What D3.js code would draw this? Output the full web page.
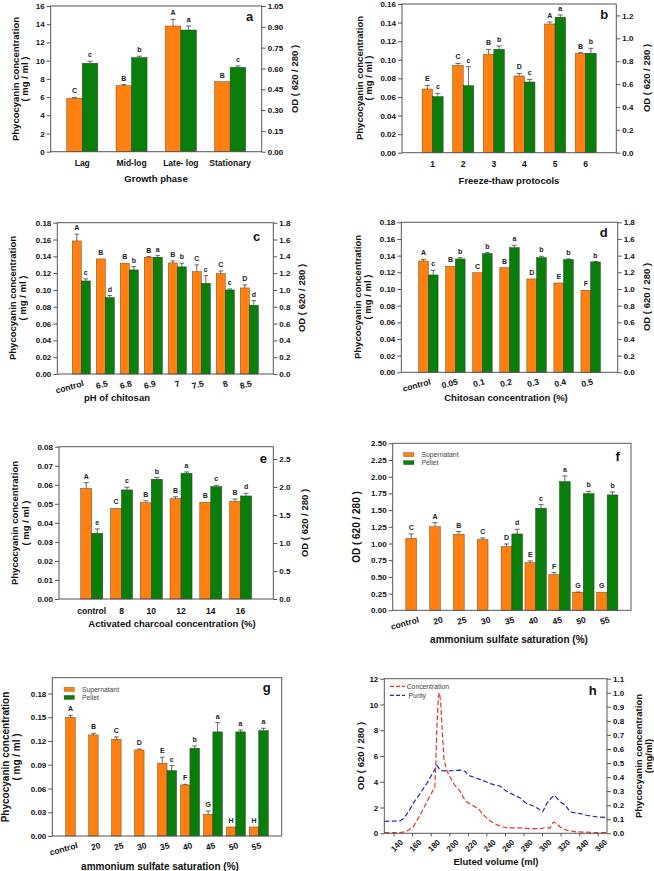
<!DOCTYPE html>
<html><head><meta charset="utf-8">
<script src="https://cdn.jsdelivr.net/npm/d3@7"></script>
<style>
body{margin:0;background:#fff}
svg{display:block}
text{font-family:"Liberation Sans",Arial,sans-serif}
</style></head><body>
<svg id="c" width="654" height="871"></svg>
<script>
// ---------- DATA ----------
// (a) growth phase
const aCats = ["Lag","Mid-log","Late- log","Stationary"];
const aSup = [5.86, 7.25, 13.8, 7.69];
const aSupErr = [0.1, 0.12, 0.73, 0.0];
const aPel = [0.637, 0.678, 0.877, 0.608];
const aPelErr = [0.015, 0.01, 0.029, 0.01];
const aSupLet = ["C","B","A","B"];
const aPelLet = ["c","b","a","c"];
const aTicksL = [0,2,4,6,8,10,12,14,16];
const aTicksR = [0,0.15,0.30,0.45,0.60,0.75,0.90,1.05];
// (b) freeze-thaw
const bCats = ["1","2","3","4","5","6"];
const bSup = [0.0685, 0.094, 0.1058, 0.0825, 0.1385, 0.1069];
const bSupErr = [0.004, 0.002, 0.0054, 0.0029, 0.0022, 0.0007];
const bPel = [0.49, 0.586, 0.904, 0.618, 1.184, 0.869];
const bPelErr = [0.029, 0.166, 0.029, 0.023, 0.02, 0.044];
const bSupLet = ["E","C","B","D","A","B"];
const bPelLet = ["c","c","b","c","a","b"];
const bTicksL = [0,0.02,0.04,0.06,0.08,0.10,0.12,0.14,0.16];
const bTicksR = [0,0.2,0.4,0.6,0.8,1.0,1.2];
// (c) pH of chitosan
const cCats = ["control","6.5","6.8","6.9","7","7.5","8","8.5"];
const cSup = [0.1583, 0.1369, 0.1317, 0.1389, 0.1321, 0.1218, 0.1194, 0.1024];
const cSupErr = [0.008, 0.0, 0.0, 0.0008, 0.0024, 0.008, 0.0032, 0.0036];
const cPel = [1.107, 0.909, 1.238, 1.389, 1.274, 1.079, 1.0, 0.817];
const cPelErr = [0.024, 0.024, 0.04, 0.02, 0.044, 0.09, 0.012, 0.056];
const cSupLet = ["A","B","B","B","B","C","C","D"];
const cPelLet = ["c","d","b","a","b","c","c","d"];
const cdTicksL = [0,0.02,0.04,0.06,0.08,0.10,0.12,0.14,0.16,0.18];
const cdTicksR = [0,0.2,0.4,0.6,0.8,1.0,1.2,1.4,1.6,1.8];
// (d) chitosan concentration
const dCats = ["control","0.05","0.1","0.2","0.3","0.4","0.5"];
const dSup = [0.1336, 0.1272, 0.1196, 0.1256, 0.112, 0.1072, 0.0984];
const dSupErr = [0.002, 0.0, 0.0, 0.0, 0.0, 0.0, 0.0];
const dPel = [1.168, 1.36, 1.424, 1.496, 1.376, 1.352, 1.324];
const dPelErr = [0.056, 0.016, 0.012, 0.028, 0.016, 0.008, 0.004];
const dSupLet = ["A","B","C","B","D","E","F"];
const dPelLet = ["c","b","b","a","b","b","b"];
// (e) activated charcoal
const eCats = ["control","8","10","12","14","16"];
const eSup = [0.0581, 0.0476, 0.0506, 0.0527, 0.0508, 0.0513];
const eSupErr = [0.003, 0.0, 0.001, 0.001, 0.0, 0.0012];
const ePel = [1.173, 1.948, 2.138, 2.245, 2.007, 1.84];
const ePelErr = [0.078, 0.048, 0.03, 0.024, 0.024, 0.048];
const eSupLet = ["A","C","B","B","B","B"];
const ePelLet = ["e","c","b","a","c","d"];
const eTicksL = [0,0.01,0.02,0.03,0.04,0.05,0.06,0.07,0.08];
const eTicksR = [0,0.5,1.0,1.5,2.0,2.5];
// (f) ammonium sulfate, OD
const fgCats = ["control","20","25","30","35","40","45","50","55"];
const fSup = [1.078, 1.252, 1.138, 1.058, 0.953, 0.714, 0.534, 0.269, 0.269];
const fSupErr = [0.065, 0.06, 0.04, 0.025, 0.04, 0.025, 0.03, 0.005, 0.0];
const fPel = [null, null, null, null, 1.143, 1.527, 1.926, 1.746, 1.727];
const fPelErr = [null, null, null, null, 0.07, 0.055, 0.085, 0.035, 0.045];
const fSupLet = ["C","A","B","C","D","E","F","G","G"];
const fPelLet = [null, null, null, null, "d","c","a","b","b"];
const fTicks = [0,0.25,0.5,0.75,1.0,1.25,1.5,1.75,2.0,2.25,2.5];
// (g) ammonium sulfate, concentration
const gSup = [0.150, 0.1277, 0.1222, 0.1087, 0.0919, 0.0645, 0.0274, 0.0114, 0.0114];
const gSupErr = [0.0025, 0.002, 0.003, 0.0013, 0.0076, 0.0008, 0.0042, 0.0, 0.0];
const gPel = [null, null, null, null, 0.0826, 0.1108, 0.1315, 0.1315, 0.1331];
const gPelErr = [null, null, null, null, 0.0063, 0.003, 0.0118, 0.0025, 0.003];
const gSupLet = ["A","B","C","D","E","F","G","H","H"];
const gPelLet = [null, null, null, null, "c","b","a","a","a"];
const gTicks = [0,0.03,0.06,0.09,0.12,0.15,0.18];
const legendLabels = ["Supernatant","Pellet"];
// (h) elution profile
const hPurVol = [130,140,147,150.5,156,161,168.5,175.7,182.9,186.5,188,190,193.6,197,204.4,211.6,217,220.5,226,233,240.3,247.5,254.7,260,269,276.3,283.4,290.7,296,300.6,305,310,313,317.5,322,325,330,341,348,359,370];
const hPurity = [0.93,0.95,0.96,1.14,1.66,2.3,3.08,3.86,4.76,5.28,5.15,4.9,4.84,4.84,4.86,4.9,4.81,4.5,4.37,4.19,3.98,3.78,3.67,3.34,3.0,2.74,2.3,2.12,1.91,1.66,2.3,2.74,2.95,2.61,2.3,2.23,1.66,1.53,1.4,1.27,1.22];
const hConVol = [130,147,154,161,168.5,175.7,182.9,184.5,185.5,186.5,188.2,189.3,190.7,192.5,194.3,197.2,200.8,206.2,211.6,217,220.5,226,231.3,236.7,243.9,251,258.3,265.4,276.3,287.1,297.9,303.3,308.7,312.3,315.9,319.5,326.7,337.4,359,370];
const hConc = [0.005,0.005,0.014,0.045,0.128,0.223,0.31,0.33,0.5,0.72,0.97,1.0,0.94,0.72,0.53,0.448,0.4,0.34,0.3,0.235,0.216,0.195,0.175,0.133,0.088,0.062,0.045,0.038,0.038,0.033,0.033,0.04,0.038,0.08,0.069,0.045,0.021,0.01,0.005,0.005];
const hXTicks = [140,160,180,200,220,240,260,280,300,320,340,360];
const hTicksL = [0,2,4,6,8,10,12];
const hTicksR = [0,0.1,0.2,0.3,0.4,0.5,0.6,0.7,0.8,0.9,1.0,1.1];
const hLegend = ["Concentration"," Purity"];

// ---------- STYLE ----------
const ORANGE = "#FF8010", GREEN = "#0A7E0A", AXC = "#555";
const svg = d3.select("#c");

function styleAxis(sel, fs){
  sel.select(".domain").remove();
  sel.selectAll(".tick line").attr("stroke", AXC);
  sel.selectAll(".tick text").attr("font-size", fs).attr("font-weight","bold").attr("fill","#111");
}
function vtext(x, y, txt, fs){
  svg.append("text").attr("transform",`translate(${x},${y}) rotate(-90)`)
    .attr("text-anchor","middle").attr("font-size",fs).attr("font-weight","bold").attr("fill","#111").text(txt);
}
function htext(x, y, txt, fs, anchor){
  svg.append("text").attr("x",x).attr("y",y).attr("text-anchor",anchor||"middle")
    .attr("font-size",fs).attr("font-weight","bold").attr("fill","#111").text(txt);
}
function legend(x, y, fs){
  [ORANGE, GREEN].forEach((c,i)=>{
    svg.append("rect").attr("x",x).attr("y",y+i*8).attr("width",10.5).attr("height",4.2)
      .attr("fill",c).attr("stroke","#444").attr("stroke-width",0.3);
    svg.append("text").attr("x",x+18).attr("y",y+i*8+4.3).attr("font-size",fs)
      .attr("fill","#444").text(legendLabels[i]);
  });
}

function barPanel(o){
  const x = d3.scalePoint().domain(o.cats).range([o.L,o.R]).padding(o.pad);
  const y = d3.scaleLinear().domain(o.yDom).range([o.B,o.T]);
  const y2 = o.y2Dom ? d3.scaleLinear().domain(o.y2Dom).range([o.B,o.T]) : y;
  const g = svg.append("g");
  const axL = g.append("g").attr("transform",`translate(${o.L},0)`)
    .call(d3.axisLeft(y).tickValues(o.ticksL).tickFormat(d3.format(o.fmtL)).tickSize(4).tickPadding(2));
  styleAxis(axL, 8);
  if (o.y2Dom){
    const axR = g.append("g").attr("transform",`translate(${o.R},0)`)
      .call(d3.axisRight(y2).tickValues(o.ticksR).tickFormat(d3.format(o.fmtR)).tickSize(4).tickPadding(2));
    styleAxis(axR, 8);
  }
  const rows = o.cats.map((c,i)=>({c, s:o.sup[i], se:o.supErr[i], sl:o.supLet[i], p:o.pel[i], pe:o.pelErr[i], pl:o.pelLet[i]}));
  const bw = o.bw, cap = Math.min(2.6, bw*0.25);
  g.selectAll("rect.s").data(rows).join("rect").attr("class","s")
    .attr("x",d=>x(d.c)-bw).attr("y",d=>y(d.s)).attr("width",bw).attr("height",d=>o.B-y(d.s))
    .attr("fill",ORANGE).attr("stroke","#6b4a1a").attr("stroke-width",0.5);
  const pr = rows.filter(d=>d.p!=null);
  g.selectAll("rect.p").data(pr).join("rect").attr("class","p")
    .attr("x",d=>x(d.c)).attr("y",d=>y2(d.p)).attr("width",bw).attr("height",d=>o.B-y2(d.p))
    .attr("fill",GREEN).attr("stroke","#1d3d1d").attr("stroke-width",0.5);
  // error bars
  g.selectAll("path.es").data(rows.filter(d=>d.se>0)).join("path").attr("class","es")
    .attr("d",d=>{const cx=x(d.c)-bw/2, t=y(d.s+d.se); return `M${cx},${y(d.s)}V${t}M${cx-cap},${t}H${cx+cap}`;})
    .attr("stroke","#444").attr("stroke-width",0.8).attr("fill","none");
  g.selectAll("path.ep").data(pr.filter(d=>d.pe>0)).join("path").attr("class","ep")
    .attr("d",d=>{const cx=x(d.c)+bw/2, t=y2(d.p+d.pe); return `M${cx},${y2(d.p)}V${t}M${cx-cap},${t}H${cx+cap}`;})
    .attr("stroke","#444").attr("stroke-width",0.8).attr("fill","none");
  // letters
  g.selectAll("text.ls").data(rows).join("text").attr("class","ls")
    .attr("x",d=>x(d.c)-bw/2).attr("y",d=>y(d.s+d.se)-4).attr("text-anchor","middle")
    .attr("font-size",7).attr("font-weight","bold").attr("fill","#222").text(d=>d.sl);
  g.selectAll("text.lp").data(pr).join("text").attr("class","lp")
    .attr("x",d=>x(d.c)+bw/2).attr("y",d=>y2(d.p+d.pe)-4).attr("text-anchor","middle")
    .attr("font-size",7).attr("font-weight","bold").attr("fill","#222").text(d=>d.pl);
  // x labels
  const xl = g.selectAll("text.xl").data(o.cats).join("text").attr("class","xl")
    .attr("font-size",8.5).attr("font-weight","bold").attr("fill","#111").text(d=>d);
  if (o.rot){
    xl.attr("text-anchor","end").attr("transform",d=>`translate(${x(d)+3},${o.B+12}) rotate(-15)`);
  } else {
    xl.attr("text-anchor","middle").attr("x",d=>x(d)).attr("y",o.B+o.xlOff);
  }
  // frame
  g.append("rect").attr("x",o.L).attr("y",o.T).attr("width",o.R-o.L).attr("height",o.B-o.T)
    .attr("fill","none").attr("stroke",AXC).attr("stroke-width",1);
}

// ---------- PANELS ----------
barPanel({L:50.7,R:261.7,T:6,B:151.7,cats:aCats,pad:0.64,bw:15.5,yDom:[0,16],y2Dom:[0,1.05],
  ticksL:aTicksL,ticksR:aTicksR,fmtL:"d",fmtR:".2f",sup:aSup,supErr:aSupErr,pel:aPel,pelErr:aPelErr,
  supLet:aSupLet,pelLet:aPelLet,rot:false,xlOff:14.5});
vtext(18.5,79,"Phycocyanin concentration",9.5); vtext(28,79,"( mg / ml )",9.5);
vtext(298,79,"OD ( 620 / 280 )",9.5);
htext(156,181.5,"Growth phase",9.5);
htext(249.5,21,"a",13);

barPanel({L:402,R:616.3,T:4,B:152.7,cats:bCats,pad:1,bw:10.5,yDom:[0,0.16],y2Dom:[0,1.3],
  ticksL:bTicksL,ticksR:bTicksR,fmtL:".2f",fmtR:".1f",sup:bSup,supErr:bSupErr,pel:bPel,pelErr:bPelErr,
  supLet:bSupLet,pelLet:bPelLet,rot:false,xlOff:14.5});
vtext(362.5,78,"Phycocyanin concentration",9.5); vtext(372,78,"( mg / ml )",9.5);
vtext(649.5,78,"OD ( 620 / 280 )",9.5);
htext(509,183.5,"Freeze-thaw protocols",9.5);
htext(604.3,19.3,"b",13);

barPanel({L:57.3,R:273.3,T:222.7,B:374,cats:cCats,pad:1,bw:9,yDom:[0,0.18],y2Dom:[0,1.8],
  ticksL:cdTicksL,ticksR:cdTicksR,fmtL:".2f",fmtR:".1f",sup:cSup,supErr:cSupErr,pel:cPel,pelErr:cPelErr,
  supLet:cSupLet,pelLet:cPelLet,rot:true});
vtext(15.5,298,"Phycocyanin concentration",9.5); vtext(25.5,298,"( mg / ml )",9.5);
vtext(305,298,"OD ( 620 / 280 )",9.5);
htext(117,401,"pH of chitosan",9.5);
htext(256.7,241,"c",13);

barPanel({L:401.3,R:617.7,T:222.3,B:372.3,cats:dCats,pad:1,bw:9.7,yDom:[0,0.18],y2Dom:[0,1.8],
  ticksL:cdTicksL,ticksR:cdTicksR,fmtL:".2f",fmtR:".1f",sup:dSup,supErr:dSupErr,pel:dPel,pelErr:dPelErr,
  supLet:dSupLet,pelLet:dPelLet,rot:true});
vtext(361,297,"Phycocyanin concentration",9.5); vtext(371,297,"( mg / ml )",9.5);
vtext(650,297,"OD ( 620 / 280 )",9.5);
htext(506,401,"Chitosan concentration (%)",9.5);
htext(603.7,236.7,"d",13);

barPanel({L:59,R:273.3,T:446.7,B:599,cats:eCats,pad:1.1,bw:11,yDom:[0,0.08],y2Dom:[0,2.72],
  ticksL:eTicksL,ticksR:eTicksR,fmtL:".2f",fmtR:".1f",sup:eSup,supErr:eSupErr,pel:ePel,pelErr:ePelErr,
  supLet:eSupLet,pelLet:ePelLet,rot:false,xlOff:14.5});
vtext(18,523,"Phycocyanin concentration",9.5); vtext(28.5,523,"( mg / ml )",9.5);
vtext(308,523,"OD ( 620 / 280 )",9.5);
htext(172,626.5,"Activated charcoal concentration (%)",9.5);
htext(263.3,463.3,"e",13);

barPanel({L:392.7,R:631,T:443.3,B:610.3,cats:fgCats,pad:1,bw:10.7,yDom:[0,2.5],y2Dom:null,
  ticksL:fTicks,fmtL:".2f",sup:fSup,supErr:fSupErr,pel:fPel,pelErr:fPelErr,
  supLet:fSupLet,pelLet:fPelLet,rot:true});
vtext(359.5,527,"OD ( 620 / 280 )",10);
htext(509,642.5,"ammonium sulfate saturation (%)",10);
htext(617.7,460.7,"f",13);
legend(403.5,452.5,6.8);

barPanel({L:52.3,R:281.7,T:677.7,B:836,cats:fgCats,pad:1,bw:9.5,yDom:[0,0.2],y2Dom:null,
  ticksL:gTicks,fmtL:".2f",sup:gSup,supErr:gSupErr,pel:gPel,pelErr:gPelErr,
  supLet:gSupLet,pelLet:gPelLet,rot:true});
vtext(8.5,757,"Phycocyanin concentration",10); vtext(19.5,757,"( mg / ml )",10);
htext(160,870,"ammonium sulfate saturation (%)",10);
htext(266.7,691.7,"g",13);
legend(64,687.3,6.8);

// (h) line panel
(function(){
  const L=384.3,R=607,T=678.7,B=833.3;
  const x = d3.scaleLinear().domain([130,370]).range([L,R]);
  const yL = d3.scaleLinear().domain([0,12]).range([B,T]);
  const yR = d3.scaleLinear().domain([0,1.1]).range([B,T]);
  const g = svg.append("g");
  const axL = g.append("g").attr("transform",`translate(${L},0)`)
    .call(d3.axisLeft(yL).tickValues(hTicksL).tickFormat(d3.format("d")).tickSize(4).tickPadding(2));
  styleAxis(axL,8);
  const axR = g.append("g").attr("transform",`translate(${R},0)`)
    .call(d3.axisRight(yR).tickValues(hTicksR).tickFormat(d3.format(".1f")).tickSize(4).tickPadding(2));
  styleAxis(axR,8);
  const axB = g.append("g").attr("transform",`translate(0,${B})`)
    .call(d3.axisBottom(x).tickValues(hXTicks).tickFormat(d3.format("d")).tickSize(3).tickPadding(2));
  styleAxis(axB,8);
  axB.selectAll(".tick text").attr("text-anchor","end").attr("transform","translate(4,4) rotate(-45)").attr("dy","0.35em");
  const pur = hPurVol.map((v,i)=>[v,hPurity[i]]);
  const con = hConVol.map((v,i)=>[v,hConc[i]]);
  g.append("path").datum(pur).attr("d",d3.line().x(d=>x(d[0])).y(d=>yL(d[1])))
    .attr("fill","none").attr("stroke","#2a2ab0").attr("stroke-width",1.2).attr("stroke-dasharray","5,2.5");
  g.append("path").datum(con).attr("d",d3.line().x(d=>x(d[0])).y(d=>yR(d[1])))
    .attr("fill","none").attr("stroke","#e8312c").attr("stroke-width",1.2).attr("stroke-dasharray","5,2.5");
  g.append("rect").attr("x",L).attr("y",T).attr("width",R-L).attr("height",B-T)
    .attr("fill","none").attr("stroke",AXC).attr("stroke-width",1);
  // legend
  [["#e8312c",686.3],["#2a2ab0",695.3]].forEach((c,i)=>{
    g.append("line").attr("x1",390).attr("x2",405).attr("y1",c[1]).attr("y2",c[1])
      .attr("stroke",c[0]).attr("stroke-width",1.2).attr("stroke-dasharray","4,2");
    g.append("text").attr("x",406.7).attr("y",c[1]+2.4).attr("font-size",6.8).attr("fill","#444")
      .attr("xml:space","preserve").text(hLegend[i]);
  });
  vtext(363.5,756,"OD ( 620 / 280 )",9.5);
  vtext(642,756,"Phycocyanin concentration",9.5);
  vtext(652,756,"(mg/ml)",9.5);
  htext(496,865,"Eluted volume (ml)",9.5);
  htext(592.7,694.7,"h",13);
})();
</script>
</body></html>
